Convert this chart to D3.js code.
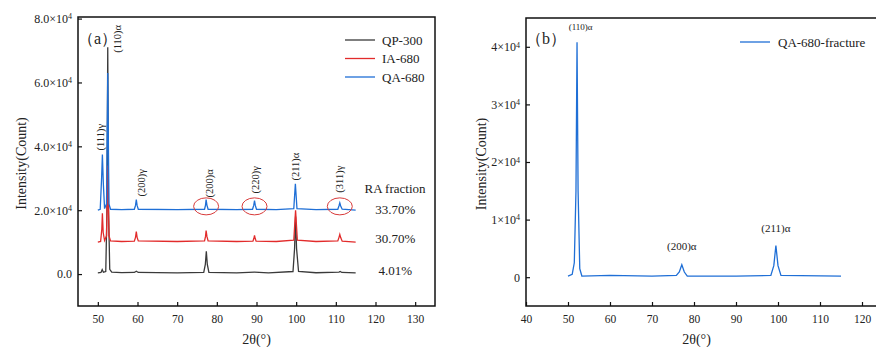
<!DOCTYPE html>
<html>
<head>
<meta charset="utf-8">
<script src="https://cdn.jsdelivr.net/npm/d3@7"></script>
<style>
  body { margin: 0; background: #fff; }
  svg text { font-family: "Liberation Serif", "Times New Roman", serif; fill: #222; }
</style>
</head>
<body>
<div id="chart"></div>
<script>
'use strict';

// ---- data: [2theta, intensity] ----
const qp300 = [[50,400],[50.8,500],[51.1,1400],[51.4,600],[52.0,800],[52.3,20000],[52.5,71000],[52.7,20000],[53.0,1500],[53.5,600],
  [56,450],[59.2,500],[59.7,900],[60.2,500],[65,420],[70,400],[76.7,500],[77.1,3000],[77.35,7100],[77.6,3000],[78.0,500],
  [85,400],[89.5,600],[93,400],[99.2,800],[99.6,8000],[99.85,18000],[100.1,8000],[100.6,800],[105,420],[110.8,600],[111.1,800],[111.5,500],[115,400]];

const ia680 = [[50,10000],[50.7,10200],[51.0,14000],[51.15,19000],[51.35,13000],[51.7,10500],[52.2,12000],[52.5,34000],[52.8,12000],[53.2,10400],
  [56,10200],[59.2,10300],[59.5,11500],[59.7,13300],[59.9,11500],[60.2,10400],[70,10200],[76.9,10400],[77.15,11800],[77.3,13600],[77.5,11800],[77.8,10400],[85,10200],
  [89.1,10300],[89.35,11200],[89.5,12100],[89.65,11200],[89.9,10300],[95,10200],[99.4,10600],[99.85,20000],[100.3,10600],[105,10200],
  [110.5,10400],[110.8,11500],[111.0,12400],[111.2,11500],[111.6,10300],[115,10000]];

const qa680 = [[50,20000],[50.6,20300],[50.95,30000],[51.15,37400],[51.4,28000],[51.7,20500],[52.2,22000],[52.5,63000],[52.8,22000],[53.2,20300],
  [56,20200],[59.2,20300],[59.5,21500],[59.7,23300],[59.9,21500],[60.2,20300],[70,20200],[76.9,20300],[77.15,21600],[77.3,23300],[77.5,21600],[77.8,20300],[85,20200],
  [89.0,20300],[89.3,21500],[89.5,23000],[89.7,21500],[90.0,20300],[95,20200],[99.4,20500],[99.8,28300],[100.2,20500],[105,20200],
  [110.5,20300],[110.8,21400],[111.0,22300],[111.2,21400],[111.6,20300],[115,20000]];

const qa680fracture = [[50,200],[51.0,500],[51.5,2500],[51.9,15000],[52.15,40800],[52.4,15000],[52.8,1500],[53.3,200],
  [60,300],[70,200],[75.8,300],[76.5,900],[77.1,2150],[77.7,900],[78.4,200],[90,200],[98.3,300],[99.0,2000],[99.5,5500],[100.0,2000],[100.7,300],[115,200]];

const seriesNamesA = ["QP-300", "IA-680", "QA-680"];
const seriesColorsA = ["#3a3a3a", "#e22b2b", "#1f6fd6"];
const raFractions = ["4.01%", "30.70%", "33.70%"];
const raOffsets = [0, 10000, 20000];

// [label, 2theta, intensity at label foot]
const peakLabelsA = [["(111)γ",50.6,38700],["(110)α",54.9,69300],["(200)γ",60.9,24300],["(200)α",78.0,24000],
  ["(220)γ",89.6,25200],["(211)α",99.9,29300],["(311)γ",110.95,25500]];
const circledPeaks = [77.3, 89.5, 111.0];

const peakLabelsB = [["(110)α",53.0,43000,9],["(200)α",77.1,4700,11],["(211)α",99.5,7800,11]];

const yTicksA = [0, 20000, 40000, 60000, 80000];
const yTicksB = [0, 10000, 20000, 30000, 40000];
const xTicksA = [50,60,70,80,90,100,110,120,130];
const xTicksB = [40,50,60,70,80,90,100,110,120];

const svg = d3.select("#chart").append("svg").attr("width", 876).attr("height", 347);

function sup(sel, fmtMant) {
  sel.each(function(d) {
    const t = d3.select(this);
    t.text(null);
    if (d === 0) { t.text(fmtMant(0)); return; }
    t.append("tspan").text(fmtMant(d / 10000) + "×10");
    t.append("tspan").attr("dy", "-0.45em").style("font-size", "8px").text("4");
  });
}

function panel(box, xDom, yDom, xTicks, yTicks, fmtMant) {
  const g = svg.append("g");
  const x = d3.scaleLinear().domain(xDom).range([box.left, box.right]);
  const y = d3.scaleLinear().domain(yDom).range([box.bottom, box.top]);

  const xa = g.append("g").attr("transform", "translate(0," + box.bottom + ")")
    .call(d3.axisBottom(x).tickValues(xTicks).tickSize(-4).tickPadding(9).tickFormat(d3.format("d")));
  xa.selectAll("text").style("font-size", "11.5px").attr("fill", "#222");
  const ya = g.append("g").attr("transform", "translate(" + box.left + ",0)")
    .call(d3.axisLeft(y).tickValues(yTicks).tickSize(-4).tickPadding(6));
  ya.selectAll("text").style("font-size", "12px").attr("fill", "#222").call(sup, fmtMant);
  g.selectAll(".domain").remove();
  g.selectAll(".tick line").attr("stroke", "#111").attr("stroke-width", 1.2);

  g.append("rect").attr("x", box.left).attr("y", box.top)
    .attr("width", box.right - box.left).attr("height", box.bottom - box.top)
    .attr("fill", "none").attr("stroke", "#111").attr("stroke-width", 1.5);

  g.append("text").attr("x", (box.left + box.right) / 2 - (box.xl || 0)).attr("y", 344)
    .attr("text-anchor", "middle").style("font-size", "14px").text("2θ(°)");
  g.append("text").attr("transform", "translate(" + box.yl + "," + ((box.top + box.bottom) / 2 + 2) + ") rotate(-90)")
    .attr("text-anchor", "middle").style("font-size", "14px").text("Intensity(Count)");
  return { g, x, y };
}

const line = (x, y) => d3.line().x(d => x(d[0])).y(d => y(d[1]));

// ---- panel (a) ----
const A = panel({ left: 78, right: 435, top: 17, bottom: 306, yl: 26 }, [45, 135], [-10000, 80500],
  xTicksA, yTicksA, v => v.toFixed(1));

[qp300, ia680, qa680].forEach((s, i) => {
  A.g.append("path").datum(s).attr("d", line(A.x, A.y))
    .attr("fill", "none").attr("stroke", seriesColorsA[i]).attr("stroke-width", 1.3);
});

A.g.selectAll(".circ").data(circledPeaks).enter().append("ellipse")
  .attr("cx", d => A.x(d)).attr("cy", A.y(21200)).attr("rx", 12.5).attr("ry", 8.5)
  .attr("fill", "none").attr("stroke", "#d83a3a").attr("stroke-width", 1);

A.g.selectAll(".pl").data(peakLabelsA).enter().append("text")
  .attr("transform", d => "translate(" + A.x(d[1]) + "," + A.y(d[2]) + ") rotate(-90)")
  .attr("dy", "0.35em").style("font-size", "10.5px").text(d => d[0]);

A.g.append("text").attr("x", 78).attr("y", 44).style("font-size", "16px")
  .text("（a）");

seriesNamesA.forEach((n, i) => {
  const ly = 40 + i * 18.5;
  A.g.append("line").attr("x1", 345).attr("x2", 375).attr("y1", ly).attr("y2", ly)
    .attr("stroke", seriesColorsA[i]).attr("stroke-width", 1.3);
  A.g.append("text").attr("x", 382).attr("y", ly + 4.5).style("font-size", "13px").text(n);
});

A.g.append("text").attr("x", 395).attr("y", 193).attr("text-anchor", "middle")
  .style("font-size", "13px").text("RA fraction");
raFractions.forEach((t, i) => {
  A.g.append("text").attr("x", A.x(125)).attr("y", A.y(raOffsets[i]) + [0, 0, 3][i]).attr("dy", "0.05em")
    .attr("text-anchor", "middle").style("font-size", "13px").text(t);
});

// ---- panel (b) ----
const B = panel({ left: 526, right: 883, top: 18, bottom: 306, yl: 486, xl: 8 }, [40, 125], [-5000, 45000],
  xTicksB, yTicksB, v => v.toFixed(0));

B.g.append("path").datum(qa680fracture).attr("d", line(B.x, B.y))
  .attr("fill", "none").attr("stroke", "#1f6fd6").attr("stroke-width", 1.3);

B.g.selectAll(".pl").data(peakLabelsB).enter().append("text")
  .attr("x", d => B.x(d[1])).attr("y", d => B.y(d[2])).attr("text-anchor", "middle")
  .style("font-size", d => d[3] + "px").text(d => d[0]);

B.g.append("text").attr("x", 526).attr("y", 44).style("font-size", "16px").text("（b）");

B.g.append("line").attr("x1", 740).attr("x2", 770).attr("y1", 42).attr("y2", 42)
  .attr("stroke", "#1f6fd6").attr("stroke-width", 1.3);
B.g.append("text").attr("x", 778).attr("y", 46.5).style("font-size", "13px").text("QA-680-fracture");
</script>
</body>
</html>
